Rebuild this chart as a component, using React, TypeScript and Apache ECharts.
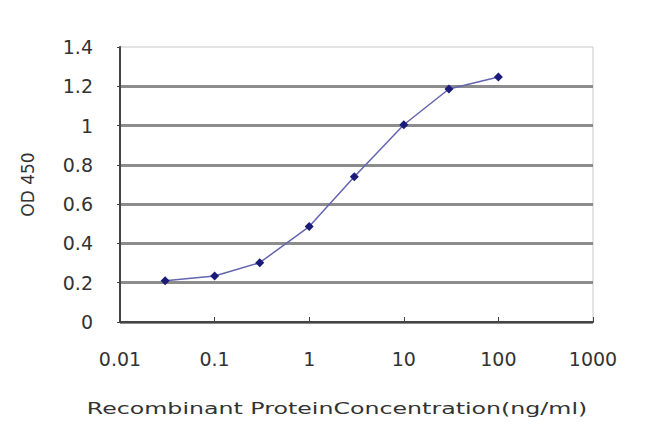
import React, { useEffect, useRef } from "react";
import * as echarts from "echarts";

const concentrations = [0.03, 0.1, 0.3, 1, 3, 10, 30, 100];
const odValues = [0.21, 0.234, 0.302, 0.486, 0.74, 1.004, 1.186, 1.247];
const xTicks = [0.01, 0.1, 1, 10, 100, 1000];
const xTitle = "Recombinant ProteinConcentration(ng/ml)";
const yTitle = "OD 450";

export default function App() {
  const ref = useRef<HTMLDivElement>(null);
  useEffect(() => {
    document.body.style.margin = "0";
    const chart = echarts.init(ref.current!, null, { renderer: "svg" });
    const tickFont = { fontFamily: "DejaVu Sans", fontSize: 19, color: "#333" };
    chart.setOption({
      animation: false,
      backgroundColor: "#fff",
      grid: {
        left: 120,
        right: 57,
        top: 47,
        bottom: 112,
        show: true,
        borderColor: "#c8c8c8",
        borderWidth: 1,
      },
      xAxis: {
        type: "log",
        logBase: 10,
        min: xTicks[0],
        max: xTicks[xTicks.length - 1],
        axisLine: { lineStyle: { color: "#444", width: 2 } },
        axisTick: { inside: true, length: 5, lineStyle: { color: "#444" } },
        minorTick: { show: false },
        splitLine: { show: false },
        axisLabel: {
          ...tickFont,
          margin: 27,
          formatter: (v: number) => {
            const t = xTicks.find((k) => Math.abs(Math.log10(k) - Math.log10(v)) < 1e-6);
            return String(t ?? v);
          },
        },
      },
      yAxis: {
        type: "value",
        min: 0,
        max: 1.4,
        interval: 0.2,
        name: yTitle,
        nameLocation: "middle",
        nameRotate: 90,
        nameGap: 84,
        nameTextStyle: { fontFamily: "DejaVu Sans", fontSize: 17, color: "#333" },
        axisLine: { show: true, lineStyle: { color: "#444", width: 2 } },
        axisTick: { show: true, length: 3, lineStyle: { color: "#444" } },
        splitLine: { show: true, showMaxLine: false, lineStyle: { color: "#8c8c8c", width: 3 } },
        axisLabel: {
          ...tickFont,
          margin: 27,
          formatter: (v: number) => String(+v.toFixed(1)),
        },
      },
      graphic: [
        {
          type: "text",
          x: 337,
          y: 409,
          scaleX: 1.58,
          originX: 0,
          style: {
            text: xTitle,
            fontFamily: "DejaVu Sans",
            fontSize: 15,
            fill: "#333",
            textAlign: "center",
            textVerticalAlign: "middle",
          },
        },
      ],
      series: [
        {
          type: "line",
          data: concentrations.map((c, i) => [c, odValues[i]]),
          symbol: "diamond",
          symbolSize: 9,
          itemStyle: { color: "#1a1a78" },
          lineStyle: { color: "#6464b0", width: 1.5 },
        },
      ],
    });
    return () => chart.dispose();
  }, []);
  return <div ref={ref} style={{ width: 650, height: 434 }} />;
}
